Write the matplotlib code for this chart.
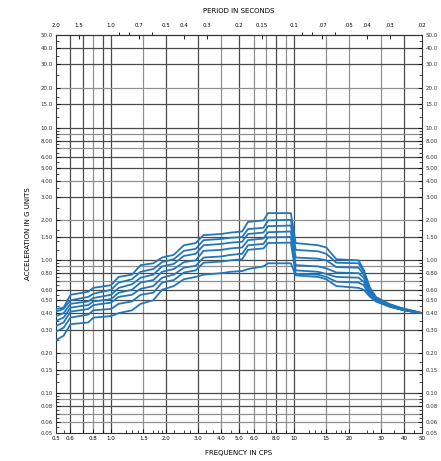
import numpy as np
import matplotlib
matplotlib.use('Agg')
import matplotlib.pyplot as plt
from matplotlib.ticker import FixedLocator, NullFormatter

# frequency breakpoints (cps) and spectral acceleration (g) for each curve
freq = [0.50, 0.55, 0.60, 0.75, 0.80, 1.0, 1.1, 1.3, 1.45, 1.7, 1.9, 2.2, 2.5,
        2.9, 3.2, 4.0, 4.5, 5.2, 5.6, 6.8, 7.2, 9.6, 10.2, 13.5, 15.0, 17.0,
        22.5, 24.0, 26.0, 28.0, 33.0, 40.0, 50.0]
acc1 = [0.43, 0.44, 0.55, 0.58, 0.62, 0.65, 0.75, 0.78, 0.92, 0.95, 1.05, 1.10, 1.30,
        1.35, 1.55, 1.58, 1.62, 1.65, 1.95, 2.00, 2.27, 2.27, 1.35, 1.30, 1.25, 1.02,
        1.00, 0.85, 0.62, 0.53, 0.47, 0.43, 0.40]
acc2 = [0.41, 0.43, 0.50, 0.53, 0.56, 0.60, 0.68, 0.72, 0.82, 0.86, 0.97, 1.02, 1.18,
        1.22, 1.42, 1.45, 1.48, 1.50, 1.72, 1.76, 2.00, 2.02, 1.20, 1.17, 1.12, 0.96,
        0.95, 0.82, 0.60, 0.52, 0.46, 0.43, 0.40]
acc3 = [0.38, 0.40, 0.47, 0.49, 0.52, 0.55, 0.62, 0.66, 0.74, 0.78, 0.90, 0.94, 1.08,
        1.12, 1.30, 1.33, 1.36, 1.38, 1.58, 1.62, 1.81, 1.83, 1.05, 1.03, 1.00, 0.89,
        0.88, 0.78, 0.58, 0.51, 0.46, 0.43, 0.40]
acc4 = [0.35, 0.37, 0.44, 0.46, 0.49, 0.51, 0.57, 0.60, 0.68, 0.71, 0.82, 0.86, 0.97,
        1.00, 1.18, 1.20, 1.23, 1.25, 1.42, 1.46, 1.63, 1.65, 0.92, 0.90, 0.87, 0.81,
        0.80, 0.74, 0.57, 0.50, 0.45, 0.42, 0.40]
acc5 = [0.32, 0.34, 0.41, 0.43, 0.46, 0.48, 0.53, 0.55, 0.61, 0.64, 0.74, 0.78, 0.88,
        0.91, 1.05, 1.07, 1.10, 1.12, 1.30, 1.33, 1.49, 1.50, 0.84, 0.82, 0.79, 0.75,
        0.74, 0.69, 0.55, 0.50, 0.45, 0.42, 0.40]
acc6 = [0.29, 0.31, 0.37, 0.39, 0.42, 0.43, 0.47, 0.49, 0.55, 0.57, 0.68, 0.71, 0.81,
        0.84, 0.96, 0.98, 1.00, 1.02, 1.20, 1.23, 1.35, 1.36, 0.79, 0.78, 0.75, 0.69,
        0.68, 0.65, 0.54, 0.49, 0.45, 0.42, 0.40]
acc7 = [0.25, 0.27, 0.33, 0.34, 0.37, 0.38, 0.40, 0.42, 0.47, 0.50, 0.60, 0.64, 0.72,
        0.75, 0.78, 0.80, 0.82, 0.83, 0.86, 0.90, 0.95, 0.95, 0.77, 0.75, 0.72, 0.64,
        0.62, 0.60, 0.53, 0.49, 0.45, 0.42, 0.40]

x_ticks = [0.5, 0.6, 0.8, 1.0, 1.5, 2.0, 3.0, 4.0, 5.0, 6.0, 8.0, 10, 15, 20, 30, 40, 50]
x_labels = ['0.5', '0.6', '0.8', '1.0', '1.5', '2.0', '3.0', '4.0', '5.0', '6.0', '8.0',
            '10', '15', '20', '30', '40', '50']
y_ticks = [50, 40, 30, 20, 15, 10, 8, 6, 5, 4, 3, 2, 1.5, 1.0, 0.8, 0.6, 0.5, 0.4,
           0.3, 0.2, 0.15, 0.1, 0.08, 0.06, 0.05]
y_labels = ['50.0', '40.0', '30.0', '20.0', '15.0', '10.0', '8.00', '6.00', '5.00',
            '4.00', '3.00', '2.00', '1.50', '1.00', '0.80', '0.60', '0.50', '0.40',
            '0.30', '0.20', '0.15', '0.10', '0.08', '0.06', '0.05']
periods = [2.0, 1.5, 1.0, 0.7, 0.5, 0.4, 0.3, 0.2, 0.15, 0.1, 0.07, 0.05, 0.04, 0.03, 0.02]
period_labels = ['2.0', '1.5', '1.0', '0.7', '0.5', '0.4', '0.3', '0.2', '0.15', '0.1',
                 '.07', '.05', '.04', '.03', '.02']

fig = plt.figure(figsize=(4.41, 4.61), dpi=100)
ax = fig.add_axes([0.127, 0.061, 0.830, 0.863])
ax.set_xscale('log')
ax.set_yscale('log')
ax.set_xlim(0.5, 50)
ax.set_ylim(0.05, 50)

# grid lines
vlines_dark = [0.6, 0.7, 0.9, 1.0, 2.0, 3.0, 5.0, 8.0, 10, 40]
vlines_light = [0.8, 1.5, 4.0, 6.0, 7.0, 9.0, 15, 20, 30]
for v in vlines_dark:
    ax.axvline(v, color='#4a4a4a', lw=0.9, zorder=1)
for v in vlines_light:
    ax.axvline(v, color='#909090', lw=0.9, zorder=1)
hl_dark = [40, 30, 15, 10, 8, 6, 5, 3, 1.5, 1.0, 0.8, 0.6, 0.5, 0.4, 0.3, 0.15, 0.1, 0.08]
hl_light = [20, 9, 7, 4, 2, 0.9, 0.7, 0.2, 0.09, 0.07, 0.06]
for h in hl_dark:
    ax.axhline(h, color='#4a4a4a', lw=0.9, zorder=1)
for h in hl_light:
    ax.axhline(h, color='#909090', lw=0.9, zorder=1)

for acc in [acc1, acc2, acc3, acc4, acc5, acc6, acc7]:
    ax.plot(freq, acc, color='#2277bb', lw=1.3, zorder=3)

ax.xaxis.set_major_locator(FixedLocator(x_ticks))
ax.set_xticklabels(x_labels)
ax.xaxis.set_minor_locator(FixedLocator([0.55, 0.7, 0.9, 1.2, 1.3, 1.4, 1.7, 1.8, 1.9,
                                         2.2, 2.5, 2.7, 3.3, 3.6, 4.5, 5.5, 7, 7.5, 9,
                                         12, 13, 14, 17, 18, 19, 25, 27, 35, 45]))
ax.xaxis.set_minor_formatter(NullFormatter())
ax.yaxis.set_major_locator(FixedLocator(y_ticks))
ax.set_yticklabels(y_labels)
ax.yaxis.set_minor_locator(FixedLocator(
    [d * m for d in [0.01, 0.1, 1, 10] for m in [5.5, 6.5, 7, 7.5, 8.5, 9, 9.5, 1.2, 1.4, 1.7, 2.5, 3.5, 4.5]
     if 0.05 <= d * m <= 50]))
ax.yaxis.set_minor_formatter(NullFormatter())
ax.tick_params(axis='both', which='both', direction='in', labelsize=4, pad=2.5,
               right=True, labelright=True, top=False)
ax.tick_params(which='major', length=3, width=0.6)
ax.tick_params(which='minor', length=2, width=0.5)
ax.tick_params(axis='y', labelcolor='#333333')

top = ax.secondary_xaxis('top', functions=(lambda f: 1.0 / f, lambda t: 1.0 / t))
top.set_xticks(periods)
top.set_xticklabels(period_labels)
top.tick_params(direction='in', labelsize=4, pad=5, length=3, width=0.6)
top.set_xlabel('PERIOD IN SECONDS', fontsize=5, labelpad=7)

ax.set_xlabel('FREQUENCY IN CPS', fontsize=5, labelpad=6)
ax.set_ylabel('ACCELERATION IN G UNITS', fontsize=5, labelpad=7)
for s in ax.spines.values():
    s.set_linewidth(0.8)
    s.set_color('#333333')

plt.savefig('out.png', dpi=100)
